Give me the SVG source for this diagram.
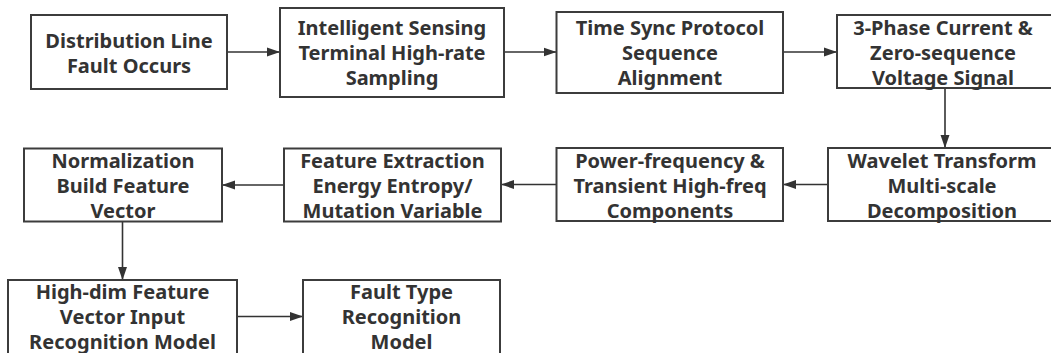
<svg xmlns="http://www.w3.org/2000/svg" width="1051" height="353" viewBox="0 0 1051 353">
<defs>
<marker id="ah" markerWidth="13" markerHeight="10" refX="13" refY="5" orient="auto" markerUnits="userSpaceOnUse">
<path d="M0,0.5 L13,5 L0,9.5 Z" fill="#333"/>
</marker>
<style>
rect{fill:#fff;stroke:#3c3c3c;stroke-width:2}
text{font-family:"Noto Sans","Open Sans","Liberation Sans",sans-serif;font-weight:bold;font-size:20px;fill:#333;text-anchor:middle}
.c line{stroke:#333;stroke-width:1.6;marker-end:url(#ah)}
</style>
</defs>
<rect x="0" y="0" width="1051" height="353" style="fill:#fff;stroke:none"/>
<g class="c" id="connectors">
<line x1="227" y1="52" x2="280" y2="52"/>
<line x1="504" y1="52" x2="556.5" y2="52"/>
<line x1="783" y1="52" x2="837" y2="52"/>
<line x1="945" y1="88" x2="945" y2="148"/>
<line x1="828" y1="184.5" x2="783" y2="184.5"/>
<line x1="556.5" y1="184.5" x2="501" y2="184.5"/>
<line x1="284" y1="185" x2="222" y2="185"/>
<line x1="122.5" y1="222" x2="122.5" y2="280"/>
<line x1="237" y1="316.5" x2="303" y2="316.5"/>
</g>
<g id="n1"><rect x="31" y="15" width="196" height="74"/><text x="129" y="47.5">Distribution Line</text><text x="129" y="72.5">Fault Occurs</text></g>
<g id="n2"><rect x="280" y="8" width="224" height="89"/><text x="392" y="35">Intelligent Sensing</text><text x="392" y="60">Terminal High-rate</text><text x="392" y="85">Sampling</text></g>
<g id="n3"><rect x="556.5" y="12" width="226.5" height="81"/><text x="670" y="35">Time Sync Protocol</text><text x="670" y="60">Sequence</text><text x="670" y="85">Alignment</text></g>
<g id="n4"><rect x="837" y="15" width="216" height="73"/><text x="943" y="35">3-Phase Current &amp;</text><text x="943" y="60">Zero-sequence</text><text x="943" y="85">Voltage Signal</text></g>
<g id="n5"><rect x="828" y="148" width="228" height="73"/><text x="942" y="167.5">Wavelet Transform</text><text x="942" y="192.5">Multi-scale</text><text x="942" y="217.5">Decomposition</text></g>
<g id="n6"><rect x="556.5" y="148" width="226.5" height="73"/><text x="670" y="167.5">Power-frequency &amp;</text><text x="670" y="192.5">Transient High-freq</text><text x="670" y="217.5">Components</text></g>
<g id="n7"><rect x="284" y="148.5" width="217" height="73"/><text x="392.5" y="168">Feature Extraction</text><text x="392.5" y="193">Energy Entropy/</text><text x="392.5" y="218">Mutation Variable</text></g>
<g id="n8"><rect x="24" y="148.5" width="198" height="73"/><text x="123" y="168">Normalization</text><text x="123" y="193">Build Feature</text><text x="123" y="218">Vector</text></g>
<g id="n9"><rect x="8" y="280" width="229" height="74"/><text x="122.5" y="298.5">High-dim Feature</text><text x="122.5" y="323.5">Vector Input</text><text x="122.5" y="348.5">Recognition Model</text></g>
<g id="n10"><rect x="303" y="280" width="197" height="74"/><text x="401.5" y="298.5">Fault Type</text><text x="401.5" y="323.5">Recognition</text><text x="401.5" y="348.5">Model</text></g>
</svg>
